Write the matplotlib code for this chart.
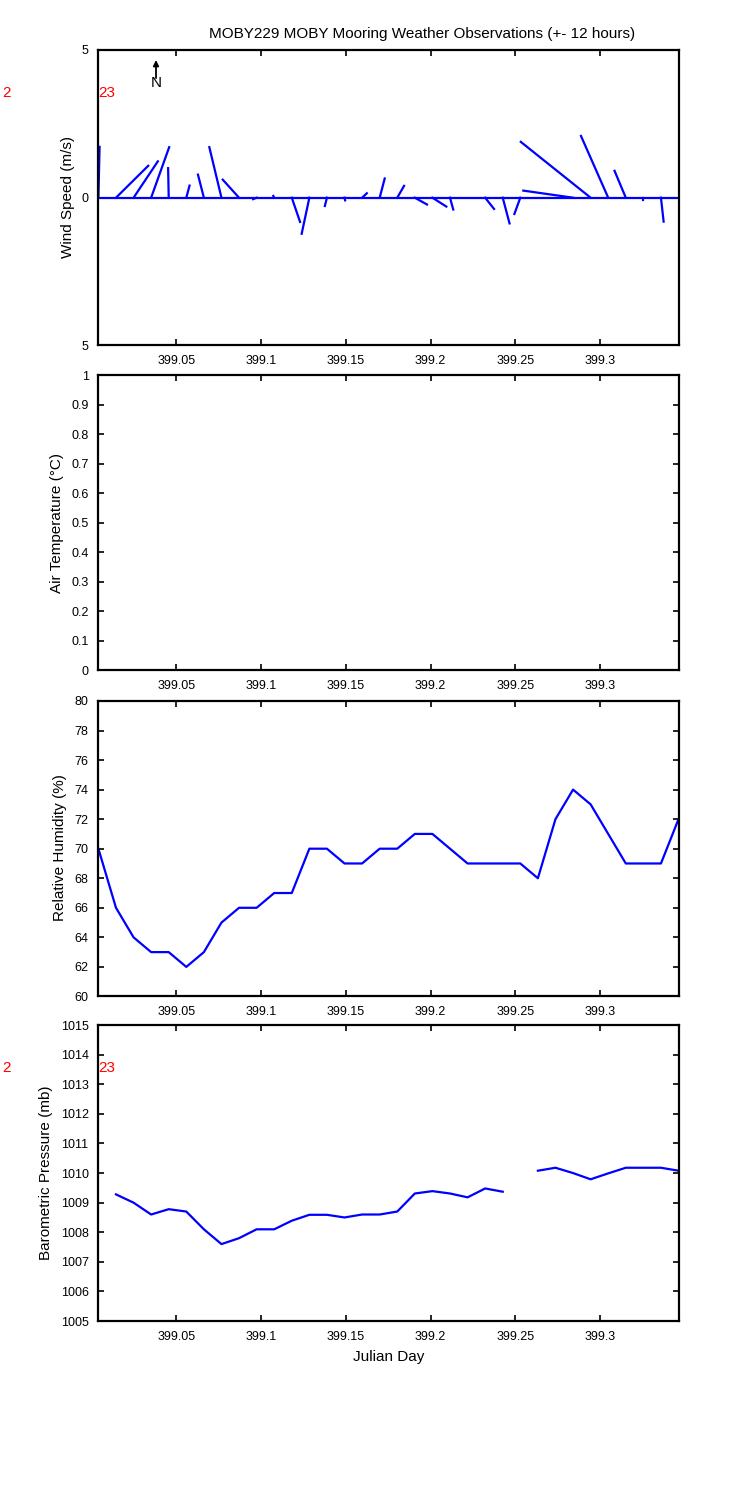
import matplotlib
matplotlib.use('Agg')
from matplotlib import pyplot as plt

plt.rcParams['font.family'] = ['Liberation Sans', 'DejaVu Sans']

# Julian day of each 15 min sample
jday = [399.00406, 399.01443, 399.02480, 399.03516, 399.04553, 399.05590,
        399.06627, 399.07664, 399.08700, 399.09737, 399.10774, 399.11811,
        399.12848, 399.13884, 399.14921, 399.15958, 399.16995, 399.18032,
        399.19068, 399.20105, 399.21142, 399.22179, 399.23216, 399.24252,
        399.25289, 399.26326, 399.27363, 399.28400, 399.29436, 399.30473,
        399.31510, 399.32547, 399.33584, 399.34620]

# wind components (m/s), east and north
wind_u = [0.04, 1.09, 0.82, 0.61, -0.02, 0.11, -0.20, -0.41, -0.55, -0.12,
          -0.03, 0.28, -0.26, -0.07, 0.02, 0.16, 0.17, 0.23, 0.41, 0.47,
          0.11, 0.0, 0.30, 0.23, -0.20, 0.0, 0.0, -1.68, -2.36, -0.92,
          -0.38, 0.0, 0.09, 0.0]
wind_v = [1.72, 1.08, 1.23, 1.71, 1.00, 0.41, 0.78, 1.71, 0.61, -0.05,
          0.06, -0.82, -1.22, -0.28, -0.09, 0.15, 0.65, 0.40, -0.23, -0.30,
          -0.40, 0.0, -0.38, -0.87, -0.55, 0.0, 0.0, 0.24, 1.89, 2.09,
          0.91, -0.08, -0.81, 0.0]

rel_hum = [70, 66, 64, 63, 63, 62, 63, 65, 66, 66, 67, 67, 70, 70, 69, 69, 70,
           70, 71, 71, 70, 69, 69, 69, 69, 68, 72, 74, 73, 71, 69, 69, 69, 72]

nan = float('nan')
baro = [nan, 1009.28, 1009.0, 1008.6, 1008.78, 1008.7, 1008.1, 1007.6,
        1007.8, 1008.1, 1008.1, 1008.39, 1008.59, 1008.59, 1008.5, 1008.6,
        1008.6, 1008.7, 1009.31, 1009.39, 1009.31, 1009.18, 1009.48, 1009.37,
        nan, 1010.08, 1010.18, 1010.0, 1009.79, 1009.99, 1010.18, 1010.18,
        1010.18, 1010.08]

xticks = [399.05, 399.1, 399.15, 399.2, 399.25, 399.3]
xtick_labels = ['399.05', '399.1', '399.15', '399.2', '399.25', '399.3']

# days per m/s so the sticks keep their direction on screen
stick_scale = 0.017457
blue = '#0000ff'

fig = plt.figure(figsize=(7.5, 15), dpi=100)
L, W, H = 0.1312, 0.7735, 0.197
ax1 = fig.add_axes([L, 0.7697, W, H])
ax2 = fig.add_axes([L, 0.5530, W, H])
ax3 = fig.add_axes([L, 0.3357, W, H])
ax4 = fig.add_axes([L, 0.1193, W, 0.1973])

for ax in (ax1, ax2, ax3, ax4):
    ax.set_xlim(jday[0], jday[-1])
    ax.set_xticks(xticks)
    ax.set_xticklabels(xtick_labels)
    ax.tick_params(direction='in', length=4, width=1.2, top=True, right=True,
                   labelsize=9, pad=7)
    for s in ax.spines.values():
        s.set_linewidth(1.6)

# wind sticks
ax1.axhline(0, color=blue, lw=1.6)
for t, u, v in zip(jday, wind_u, wind_v):
    ax1.plot([t, t + u * stick_scale], [0, v], color=blue, lw=1.6)
ax1.set_ylim(-5, 5)
ax1.set_yticks([-5, 0, 5])
ax1.set_yticklabels(['5', '0', '5'])
# mostly hidden behind the panel below, as in the original
ax1.set_xlabel('Julian Day', fontsize=11, labelpad=5)
ax1.annotate('', xy=(0.0993, 0.966), xytext=(0.0993, 0.905),
             xycoords='axes fraction',
             arrowprops=dict(arrowstyle='-|>', color='black', lw=1.3,
                             mutation_scale=8, shrinkA=0, shrinkB=0))
ax1.text(0.0993, 0.888, 'N', transform=ax1.transAxes, ha='center',
         va='center', fontsize=11)

# air temperature (no data)
ax2.set_ylim(0, 1)
ax2.set_yticks([i / 10 for i in range(11)])
ax2.set_yticklabels(['0', '0.1', '0.2', '0.3', '0.4', '0.5', '0.6', '0.7',
                     '0.8', '0.9', '1'])

ax3.plot(jday, rel_hum, color=blue, lw=1.6)
ax3.set_ylim(60, 80)
ax3.set_yticks(range(60, 81, 2))

ax4.plot(jday, baro, color=blue, lw=1.6)
ax4.set_ylim(1005, 1015)
ax4.set_yticks(range(1005, 1016))
ax4.set_xlabel('Julian Day', fontsize=11, labelpad=5)

for ax in (ax1, ax4):
    ax.text(-0.166, 0.854, '2', transform=ax.transAxes, color='red',
            fontsize=11, va='center', ha='left')
    ax.text(0.0, 0.854, '23', transform=ax.transAxes, color='red',
            fontsize=11, va='center', ha='left')

fig.text(68 / 750, 1 - 197 / 1500, 'Wind Speed (m/s)', rotation=90,
         ha='center', va='center', fontsize=11)
fig.text(57 / 750, 1 - 523 / 1500, 'Air Temperature (°C)', rotation=90,
         ha='center', va='center', fontsize=11)
fig.text(60 / 750, 1 - 848 / 1500, 'Relative Humidity (%)', rotation=90,
         ha='center', va='center', fontsize=11)
fig.text(46 / 750, 1 - 1173 / 1500, 'Barometric Pressure (mb)', rotation=90,
         ha='center', va='center', fontsize=11)

fig.text(422 / 750, 1 - 34 / 1500,
         'MOBY229 MOBY Mooring Weather Observations (+- 12 hours)',
         ha='center', va='center', fontsize=11)

fig.savefig('out.png', dpi=100)
